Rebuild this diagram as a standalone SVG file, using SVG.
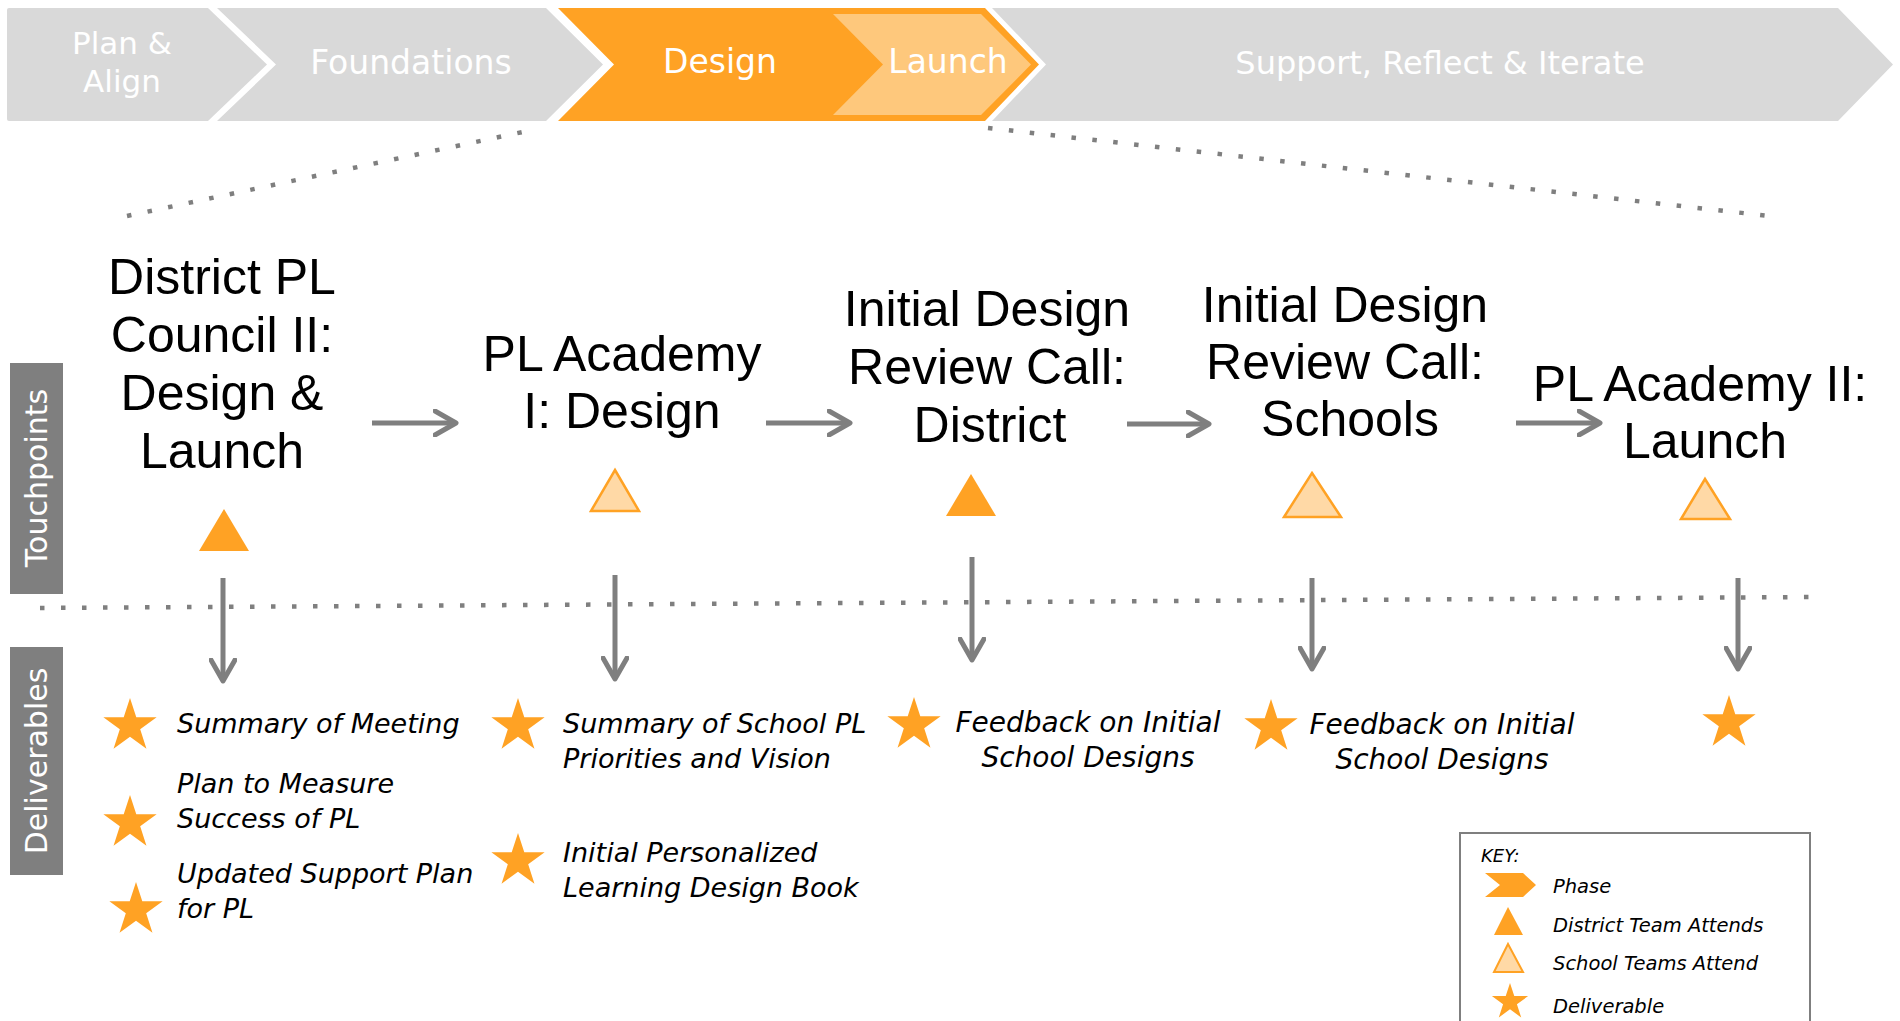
<svg xmlns="http://www.w3.org/2000/svg" xmlns:xlink="http://www.w3.org/1999/xlink" width="1900" height="1021" viewBox="0 0 1900 1021">
<style>
.band{fill:#D9D9D9}
.org{fill:#FFA224}
.lt{fill:#FEC87C}
.ph{font-family:"DejaVu Sans","Liberation Sans",sans-serif;font-size:33px;fill:#FFFFFF;text-anchor:middle}
.ttl{font-family:"Liberation Sans",Arial,sans-serif;font-size:50px;fill:#000000;text-anchor:middle}
.dl{font-family:"DejaVu Sans","Liberation Sans",sans-serif;font-style:italic;font-size:27px;fill:#000000}
.dlc{text-anchor:middle;font-size:28px}
.side{fill:#7F7F7F}
.sidet{font-family:"DejaVu Sans","Liberation Sans",sans-serif;font-size:30px;fill:#FFFFFF;text-anchor:middle}
.tri-d{fill:#FFA224}
.tri-s{fill:#FFD9A6;stroke:#FFA224;stroke-width:2.5;stroke-linejoin:miter}
.star{fill:#FFA224}
.arr{stroke:#7F7F7F;stroke-width:5;fill:none;marker-end:url(#ah)}
.dots{stroke:#7F7F7F;stroke-width:4.5;fill:none;stroke-dasharray:4.5 16.5}
.key{font-family:"DejaVu Sans","Liberation Sans",sans-serif;font-style:italic;font-size:19.5px;fill:#000000}
</style>
<defs>
<marker id="ah" viewBox="0 0 26 28" refX="23" refY="14" markerWidth="26" markerHeight="28" markerUnits="userSpaceOnUse" orient="auto">
<path d="M2,2 L23,14 L2,26" fill="none" stroke="#7F7F7F" stroke-width="5" stroke-linecap="round" stroke-linejoin="round"/>
</marker>
<path id="star" d="M0,-28 L6.29,-8.66 L26.63,-8.65 L10.18,3.31 L16.46,22.65 L0,10.7 L-16.46,22.65 L-10.18,3.31 L-26.63,-8.65 L-6.29,-8.66 Z"/>
</defs>
<rect width="1900" height="1021" fill="#FFFFFF"/>

<!-- Phase band -->
<g id="phase-plan-align">
<path class="band" d="M9,8 H208 L267,64.5 L208,121 H9 Q7,121 7,119 V10 Q7,8 9,8 Z"/>
<text class="ph" x="122" y="54" style="font-size:31px">Plan &amp;</text>
<text class="ph" x="122" y="92" style="font-size:31px">Align</text>
</g>
<g id="phase-foundations">
<path class="band" d="M217,8 H546 L603,64.5 L546,121 H217 L276,64.5 Z"/>
<text class="ph" x="411" y="74">Foundations</text>
</g>
<g id="phase-design">
<path class="org" d="M558,8 H985 L1039,64.5 L985,121 H558 L614,64.5 Z"/>
<text class="ph" x="720" y="73">Design</text>
</g>
<g id="phase-launch">
<path class="lt" d="M833,14 H981 L1031,64.5 L981,115 H833 L883,64.5 Z"/>
<text class="ph" x="948" y="73">Launch</text>
</g>
<g id="phase-support">
<path class="band" d="M992,8 H1838 L1893,64.5 L1838,121 H992 L1046,64.5 Z"/>
<text class="ph" x="1440" y="74" style="font-size:32px">Support, Reflect &amp; Iterate</text>
</g>

<!-- Guide dotted lines -->
<g id="guides">
<line class="dots" x1="127" y1="216" x2="532" y2="130"/>
<line class="dots" x1="988" y1="128" x2="1778" y2="217"/>
<line class="dots" x1="40" y1="608" x2="1820" y2="597"/>
</g>

<!-- Row labels -->
<g id="label-touchpoints">
<rect class="side" x="10" y="363" width="53" height="231"/>
<text class="sidet" transform="translate(47,478) rotate(-90)">Touchpoints</text>
</g>
<g id="label-deliverables">
<rect class="side" x="10" y="647" width="53" height="228"/>
<text class="sidet" transform="translate(47,761) rotate(-90)">Deliverables</text>
</g>

<!-- Touchpoints -->
<g id="tp-council">
<text class="ttl" x="222" y="294">District PL</text>
<text class="ttl" x="222" y="352">Council II:</text>
<text class="ttl" x="222" y="410">Design &amp;</text>
<text class="ttl" x="222" y="468">Launch</text>
<polygon class="tri-d" points="224,509 249,551 199,551"/>
</g>
<g id="tp-academy1">
<text class="ttl" x="622" y="371">PL Academy</text>
<text class="ttl" x="622" y="428">I: Design</text>
<polygon class="tri-s" points="615,470 639,511 591,511"/>
</g>
<g id="tp-review-district">
<text class="ttl" x="987" y="326">Initial Design</text>
<text class="ttl" x="987" y="384">Review Call:</text>
<text class="ttl" x="990" y="442">District</text>
<polygon class="tri-d" points="971,474 996,516 946,516"/>
</g>
<g id="tp-review-schools">
<text class="ttl" x="1345" y="322">Initial Design</text>
<text class="ttl" x="1345" y="379">Review Call:</text>
<text class="ttl" x="1350" y="436">Schools</text>
<polygon class="tri-s" points="1312,473 1341,517 1284,517"/>
</g>
<g id="tp-academy2">
<text class="ttl" x="1700" y="401">PL Academy II:</text>
<text class="ttl" x="1705" y="458">Launch</text>
<polygon class="tri-s" points="1705,479 1730,519 1681,519"/>
</g>

<!-- Connectors -->
<g id="connectors">
<line class="arr" x1="372" y1="423" x2="456" y2="423"/>
<line class="arr" x1="766" y1="423" x2="850" y2="423"/>
<line class="arr" x1="1127" y1="424" x2="1209" y2="424"/>
<line class="arr" x1="1516" y1="423" x2="1600" y2="423"/>
<line class="arr" x1="223" y1="578" x2="223" y2="681"/>
<line class="arr" x1="615" y1="575" x2="615" y2="679"/>
<line class="arr" x1="972" y1="557" x2="972" y2="660"/>
<line class="arr" x1="1312" y1="578" x2="1312" y2="669"/>
<line class="arr" x1="1738" y1="578" x2="1738" y2="669"/>
</g>

<!-- Deliverables -->
<g id="del-council">
<use class="star" xlink:href="#star" href="#star" x="130" y="726"/>
<use class="star" xlink:href="#star" href="#star" x="130" y="823"/>
<use class="star" xlink:href="#star" href="#star" x="136" y="910"/>
<text class="dl" x="177" y="733">Summary of Meeting</text>
<text class="dl" x="177" y="793">Plan to Measure</text>
<text class="dl" x="177" y="828">Success of PL</text>
<text class="dl" x="177" y="883">Updated Support Plan</text>
<text class="dl" x="177" y="918">for PL</text>
</g>
<g id="del-academy1">
<use class="star" xlink:href="#star" href="#star" x="518" y="726"/>
<use class="star" xlink:href="#star" href="#star" x="518" y="861"/>
<text class="dl" x="563" y="733">Summary of School PL</text>
<text class="dl" x="563" y="768">Priorities and Vision</text>
<text class="dl" x="563" y="862">Initial Personalized</text>
<text class="dl" x="563" y="897">Learning Design Book</text>
</g>
<g id="del-review-district">
<use class="star" xlink:href="#star" href="#star" x="914" y="725"/>
<text class="dl dlc" x="1088" y="732">Feedback on Initial</text>
<text class="dl dlc" x="1088" y="767">School Designs</text>
</g>
<g id="del-review-schools">
<use class="star" xlink:href="#star" href="#star" x="1271" y="727"/>
<text class="dl dlc" x="1442" y="734">Feedback on Initial</text>
<text class="dl dlc" x="1442" y="769">School Designs</text>
</g>
<g id="del-academy2">
<use class="star" xlink:href="#star" href="#star" x="1729" y="723"/>
</g>

<!-- Key -->
<g id="key">
<rect x="1460" y="833" width="350" height="210" fill="none" stroke="#7F7F7F" stroke-width="2"/>
<text class="key" x="1481" y="862" style="font-size:18px">KEY:</text>
<path class="org" d="M1485,873 H1523 L1536,885 L1523,897 H1485 L1500,885 Z"/>
<text class="key" x="1553" y="893">Phase</text>
<polygon class="tri-d" points="1508,907 1523,935 1494,935"/>
<text class="key" x="1553" y="932">District Team Attends</text>
<polygon class="tri-s" points="1508,944 1523,972 1494,972" style="stroke-width:2"/>
<text class="key" x="1553" y="970">School Teams Attend</text>
<use class="star" xlink:href="#star" href="#star" transform="translate(1510,1002) scale(0.68)"/>
<text class="key" x="1553" y="1013">Deliverable</text>
</g>
</svg>
